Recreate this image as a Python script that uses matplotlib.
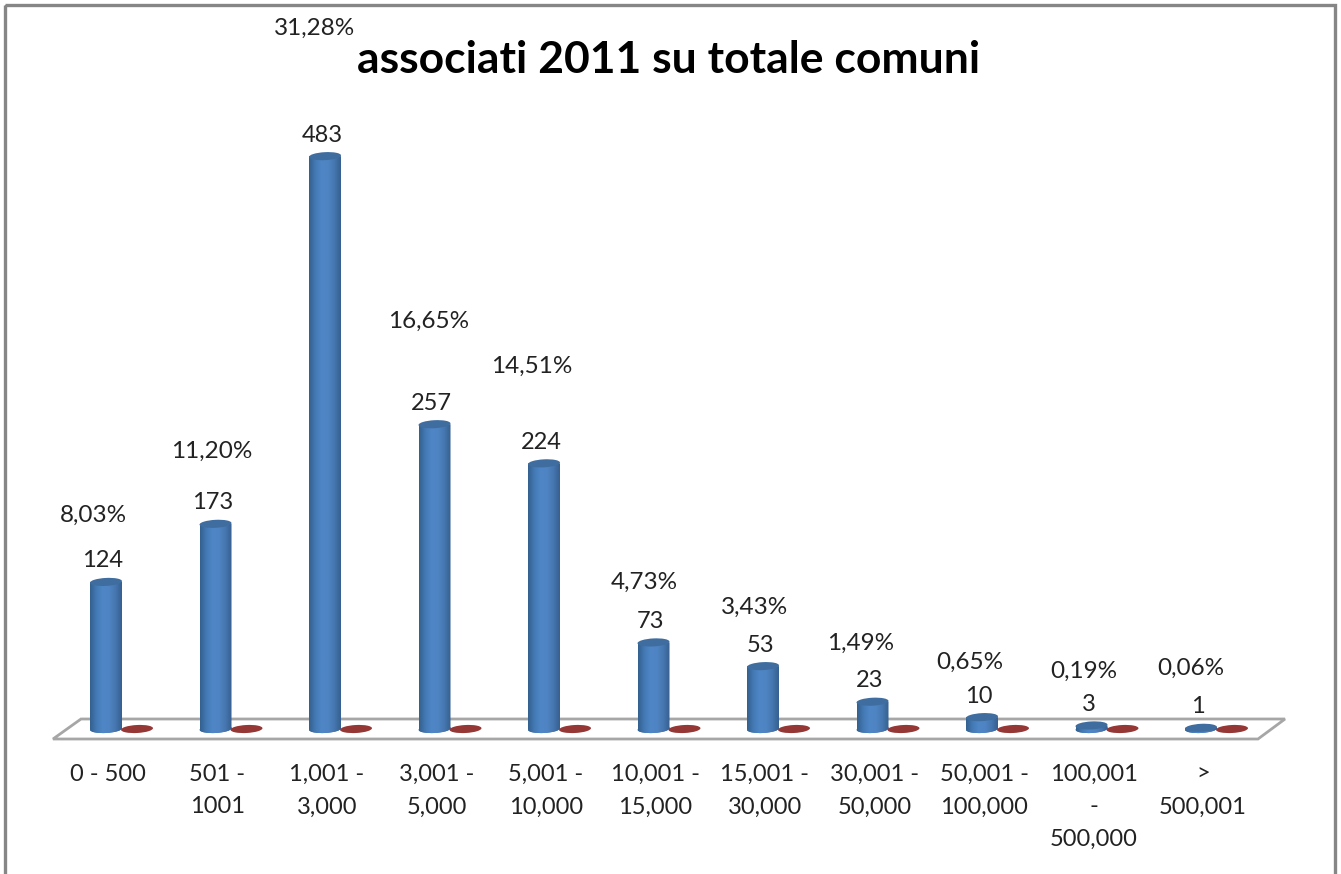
import numpy as np
from matplotlib import pyplot as plt
from matplotlib.colors import LinearSegmentedColormap
from matplotlib.patches import Ellipse, Polygon, Rectangle
from matplotlib.path import Path
from matplotlib.transforms import Affine2D, ScaledTranslation

# Dane wykresu
categories = ["0 - 500", "501 -\n1001", "1,001 -\n3,000", "3,001 -\n5,000",
              "5,001 -\n10,000", "10,001 -\n15,000", "15,001 -\n30,000",
              "30,001 -\n50,000", "50,001 -\n100,000", "100,001\n-\n500,000",
              ">\n500,001"]
associati = [124, 173, 483, 257, 224, 73, 53, 23, 10, 3, 1]
altri = [0, 0, 0, 0, 0, 0, 0, 0, 0, 0, 0]
percent = ["8,03%", "11,20%", "31,28%", "16,65%", "14,51%", "4,73%",
           "3,43%", "1,49%", "0,65%", "0,19%", "0,06%"]

# pozycje etykiet procentowych w pikselach obrazka
percent_x = [93, 212, 315, 429, 532, 644, 755, 861, 970, 1084, 1191]
percent_y = [515, 451, 28, 321, 366, 582, 607, 643, 662, 671, 668]

W, H = 1341, 874
X0, DX = 106, 109.5
Y0, DY = 729, 1.186
BAR_W = 32
FONT = "Lato"

fig = plt.figure(figsize=(W / 100, H / 100), dpi=100, facecolor="white")
ax = fig.add_axes([0, 0, 1, 1])
ax.set_xlim(-X0 / DX, (W - X0) / DX)
ax.set_ylim((Y0 - H) / DY, Y0 / DY)
ax.axis("off")

# piksele liczone od gory obrazka
px = Affine2D().scale(1, -1).translate(0, H)

# ramka i podloga
ax.add_patch(Rectangle((5, 5), 1330, 900, transform=px, fill=False,
                       ec="#868686", lw=2.4, zorder=1, clip_on=True))
ax.add_patch(Polygon([(53, 739), (1258, 739), (1285, 719), (81, 719)], transform=px,
                     fc="white", ec="#a6a6a6", lw=2, zorder=2))

cmap = LinearSegmentedColormap.from_list(
    "cyl", ["#33608f", "#447ab5", "#4f86c6", "#4f84c3", "#4677b0", "#36608f"])
grad = np.linspace(0, 1, 64).reshape(1, -1)
bar_w = BAR_W / DX


def disc(x, y, color, z, w=BAR_W, h=8):
    tr = Affine2D() + ScaledTranslation(x, y, ax.transData)
    e = Ellipse((0, 0), w, h, angle=3, transform=tr, fc=color, ec="none", zorder=z)
    ax.add_patch(e)
    return e


# Serie
x = np.arange(len(categories))
bars = ax.bar(x, associati, width=bar_w, color="none", zorder=3)
for i, v in enumerate(associati):
    base = disc(i, 0, "#4a7db8", 3)
    body = ax.imshow(grad, extent=(i - bar_w / 2, i + bar_w / 2, -6 / DY, v), cmap=cmap,
                     aspect="auto", zorder=4, interpolation="bilinear")
    rect = bars[i].get_path().transformed(bars[i].get_transform())
    oval = base.get_path().transformed(base.get_transform())
    body.set_clip_path(Path.make_compound_path(rect, oval), Affine2D())
    disc(i, v, "#3f6d9f", 5)

ax.set_xlim(-X0 / DX, (W - X0) / DX)
ax.set_ylim((Y0 - H) / DY, Y0 / DY)

for i, v in enumerate(altri):
    disc(i + 31 / DX, v, "#953735", 6, w=32, h=8)

# Etykiety
for i, v in enumerate(associati):
    ax.annotate(str(v), (i, v), xytext=(-3, 21), textcoords="offset pixels",
                ha="center", va="center", fontsize=17, family=FONT, color="#222222")
    ax.text(percent_x[i], percent_y[i], percent[i], transform=px, ha="center",
            va="center", fontsize=17.5, family=FONT, color="#222222")

    ax.annotate(categories[i], (i, 0), xytext=(2, -(772 - Y0) + 8),
                textcoords="offset pixels", ha="center", va="top", fontsize=17,
                family=FONT, color="#222222", linespacing=1.67)

ax.text(669, 60, "associati 2011 su totale comuni", transform=px, ha="center",
        va="center", fontsize=32, fontweight="bold", family=FONT, color="black")

plt.savefig("out.png", dpi=100)
